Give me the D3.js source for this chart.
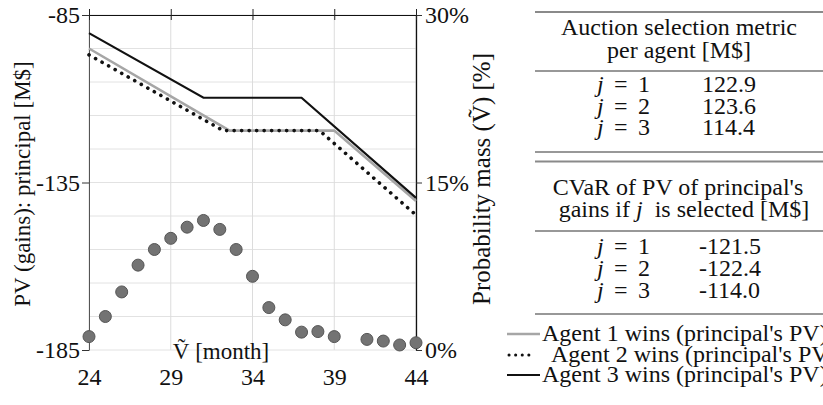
<!DOCTYPE html>
<html><head><meta charset="utf-8">
<script src="https://cdn.jsdelivr.net/npm/d3@7"></script>
<style>
html,body{margin:0;padding:0;background:#fff;overflow:hidden}
svg{display:block}
</style></head><body>
<svg id="c" width="823" height="405"></svg>
<script>
// ---------- data ----------
const xTicks = [24, 29, 34, 39, 44];
const pvTicks = [-85, -135, -185];
const pvGrid = [-85, -95, -105, -115, -125, -135, -145, -155, -165, -175, -185];
const pmTicks = [0, 15, 30];

const agent1Months = [24, 32.6, 39, 44];
const agent1PV     = [-95.0, -119.5, -119.5, -140.5];
const agent2Months = [24, 32.2, 38.1, 44];
const agent2PV     = [-96.9, -119.5, -119.5, -144.7];
const agent3Months = [24, 31, 37, 44];
const agent3PV     = [-90.4, -109.7, -109.7, -139.6];

const pmMonths = [24, 25, 26, 27, 28, 29, 30, 31, 32, 33, 34, 35, 36, 37, 38, 39, 41, 42, 43, 44];
const pmValues = [1.2, 3.0, 5.2, 7.6, 9.0, 10.0, 11.0, 11.6, 10.8, 9.0, 6.6, 3.8, 2.7, 1.6, 1.65, 1.2, 0.95, 0.8, 0.45, 0.65];

const jLabels = ["1", "2", "3"];
const metricValues = ["122.9", "123.6", "114.4"];
const cvarValues = ["-121.5", "-122.4", "-114.0"];
const legendLabels = ["Agent 1 wins (principal's PV)", "Agent 2 wins (principal's PV)", "Agent 3 wins (principal's PV)"];

// ---------- setup ----------
const FONT = "Liberation Serif";
const svg = d3.select("#c").attr("font-family", FONT);
const FS = 24;
const x = d3.scaleLinear().domain([24, 44]).range([89, 416]);
const y = d3.scaleLinear().domain([-185, -85]).range([350, 15]);
const yR = d3.scaleLinear().domain([0, 30]).range([350, 15]);
const styleText = sel => sel.attr("font-size", FS).attr("font-family", FONT).attr("fill", "#111");

// grid
const grid = svg.append("g");
grid.selectAll("line.h").data(pvGrid).join("line")
  .attr("x1", x(24)).attr("x2", x(44))
  .attr("y1", d => y(d)).attr("y2", d => y(d))
  .attr("stroke", "#e2e2e2").attr("stroke-width", 1);
grid.selectAll("line.v").data(xTicks).join("line")
  .attr("x1", d => x(d)).attr("x2", d => x(d))
  .attr("y1", y(-85)).attr("y2", y(-185))
  .attr("stroke", "#dcdcdc").attr("stroke-width", 1);

// left axis
const gL = svg.append("g").attr("transform", `translate(${x(24)},0)`)
  .call(d3.axisLeft(y).tickValues(pvTicks).tickSize(7).tickSizeOuter(0).tickPadding(2).tickFormat(d => String(d)));
gL.attr("font-family", FONT);
gL.select(".domain").attr("stroke", "#555");
gL.selectAll(".tick line").attr("stroke", "#333");
styleText(gL.selectAll("text"));

// right axis
const gR = svg.append("g").attr("transform", `translate(${x(44)},0)`)
  .call(d3.axisRight(yR).tickValues(pmTicks).tickSize(6).tickSizeOuter(0).tickPadding(3).tickFormat(d => d + "%"));
gR.attr("font-family", FONT);
gR.select(".domain").attr("stroke", "#111").attr("stroke-width", 1.3);
gR.selectAll(".tick line").attr("stroke", "#333");
styleText(gR.selectAll("text"));

// top axis (ticks only, crossing)
const gT = svg.append("g").attr("transform", `translate(0,${y(-85)})`)
  .call(d3.axisTop(x).tickValues(xTicks).tickSize(6).tickSizeOuter(0).tickFormat(""));
gT.select(".domain").attr("stroke", "#111").attr("stroke-width", 1.2);
gT.selectAll(".tick line").attr("y1", 5).attr("y2", -6).attr("stroke", "#222");

// bottom labels
const gB = svg.append("g").attr("transform", `translate(0,${y(-185)})`)
  .call(d3.axisBottom(x).tickValues(xTicks).tickSize(0).tickPadding(18).tickFormat(d => String(d)));
gB.attr("font-family", FONT);
gB.select(".domain").remove();
styleText(gB.selectAll("text"));

// axis titles
styleText(svg.append("text")).attr("x", 221).attr("y", 359).attr("text-anchor", "middle")
  .attr("font-size", 23).text("Ṽ [month]");
styleText(svg.append("text")).attr("transform", "translate(30,184) rotate(-90)").attr("text-anchor", "middle")
  .attr("font-size", 23).text("PV (gains): principal [M$]");
styleText(svg.append("text")).attr("transform", "translate(490,179) rotate(-90)").attr("text-anchor", "middle")
  .attr("font-size", 25).text("Probability mass (Ṽ) [%]");

// probability mass dots
svg.append("g").selectAll("circle").data(pmMonths.map((m, i) => [m, pmValues[i]])).join("circle")
  .attr("cx", d => x(d[0])).attr("cy", d => yR(d[1])).attr("r", 6)
  .attr("fill", "#737373").attr("stroke", "#555").attr("stroke-width", 1);

// lines
const line = d3.line().x(d => x(d[0])).y(d => y(d[1]));
const zip = (a, b) => a.map((v, i) => [v, b[i]]);
svg.append("path").datum(zip(agent1Months, agent1PV)).attr("d", line)
  .attr("fill", "none").attr("stroke", "#a6a6a6").attr("stroke-width", 2.6);
svg.append("path").datum(zip(agent2Months, agent2PV)).attr("d", line)
  .attr("fill", "none").attr("stroke", "#111").attr("stroke-width", 3.6)
  .attr("stroke-dasharray", "0.1 7.4").attr("stroke-linecap", "round");
svg.append("path").datum(zip(agent3Months, agent3PV)).attr("d", line)
  .attr("fill", "none").attr("stroke", "#111").attr("stroke-width", 2.2);

// ---------- tables ----------
const T = svg.append("g").attr("fill", "#111").attr("font-size", FS).attr("font-family", FONT);
const rule = (yy, col, w) => T.append("line").attr("x1", 535).attr("x2", 823)
  .attr("y1", yy).attr("y2", yy).attr("stroke", col).attr("stroke-width", w);
const txt = (g) => styleText(g.append("text"));

rule(12, "#8a8a8a", 2.2);
txt(T).attr("x", 679).attr("y", 35).attr("text-anchor", "middle").text("Auction selection metric");
txt(T).attr("x", 679).attr("y", 58).attr("text-anchor", "middle").text("per agent [M$]");
rule(71, "#333", 1.2);
const rowText = (g, yy, j, v, vx) => {
  const t = txt(g).attr("x", 597).attr("y", yy);
  t.append("tspan").attr("font-style", "italic").text("j");
  t.append("tspan").attr("x", 614).text("=");
  t.append("tspan").attr("x", 638).text(j);
  txt(g).attr("x", vx).attr("y", yy).text(v);
};
jLabels.forEach((j, i) => rowText(T, 92 + i * 21.5, j, metricValues[i], 702));
rule(152, "#333", 1.2);
rule(161.5, "#8a8a8a", 2.2);
txt(T).attr("x", 678).attr("y", 195).attr("text-anchor", "middle").text("CVaR of PV of principal's");
const h2 = txt(T).attr("x", 684).attr("y", 216.5).attr("text-anchor", "middle").attr("xml:space", "preserve");
h2.append("tspan").text("gains if ");
h2.append("tspan").attr("font-style", "italic").text("j");
h2.append("tspan").text("  is selected [M$]");
rule(231, "#333", 1.2);
jLabels.forEach((j, i) => rowText(T, 254 + i * 22, j, cvarValues[i], 699));
rule(314, "#333", 1.2);

// ---------- legend ----------
const L = svg.append("g").attr("font-size", FS).attr("fill", "#111").attr("font-family", FONT);
L.append("line").attr("x1", 507).attr("x2", 540).attr("y1", 334).attr("y2", 334)
  .attr("stroke", "#a6a6a6").attr("stroke-width", 2.6);
txt(L).attr("x", 542).attr("y", 341).text(legendLabels[0]);
L.append("line").attr("x1", 509).attr("x2", 533).attr("y1", 355).attr("y2", 355)
  .attr("stroke", "#111").attr("stroke-width", 3).attr("stroke-dasharray", "0.1 6.5").attr("stroke-linecap", "round");
txt(L).attr("x", 551).attr("y", 362).text(legendLabels[1]);
L.append("line").attr("x1", 507).attr("x2", 540).attr("y1", 375).attr("y2", 375)
  .attr("stroke", "#111").attr("stroke-width", 2);
txt(L).attr("x", 542).attr("y", 382).text(legendLabels[2]);
</script>
</body></html>
